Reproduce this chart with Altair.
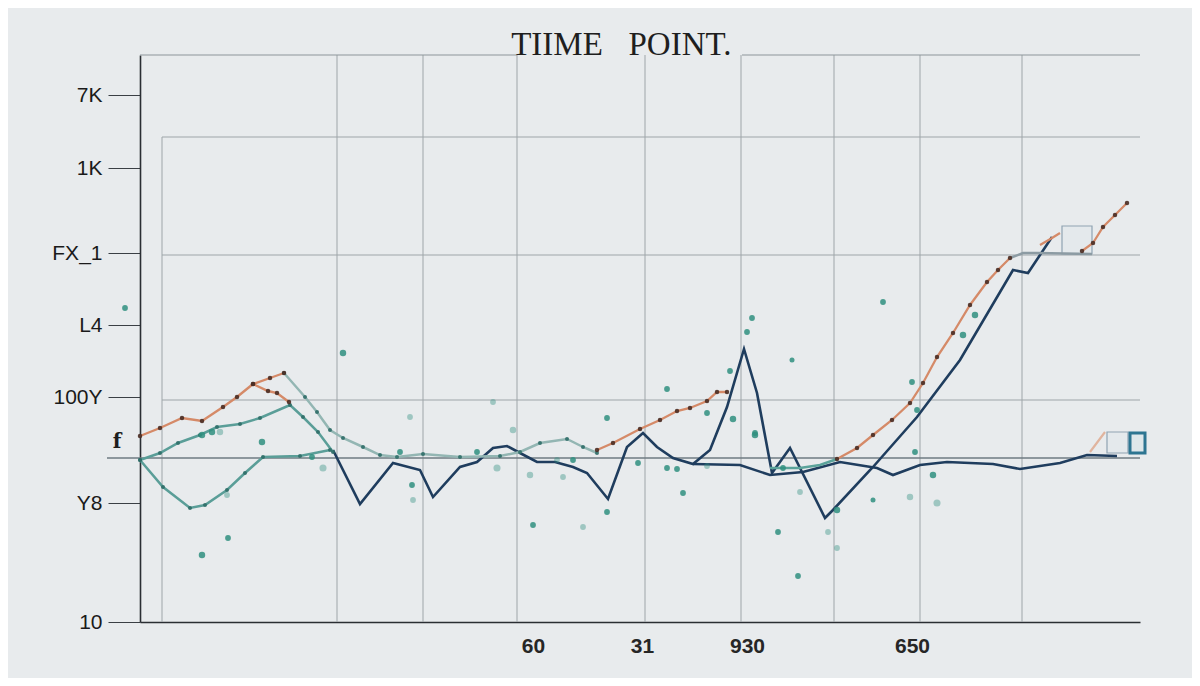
import altair as alt
import pandas as pd

# ---------------- data (x = time units, y = level units) ----------------
NAVY_X = [193, 220, 253, 280, 293, 320, 337, 353, 367, 380, 397, 415, 433, 447, 468, 487, 503, 517, 533, 553,
          570, 587, 604, 617, 632, 650, 685, 693, 733, 777, 820, 873, 888, 912]
NAVY_Y = [172, 118, 159, 152, 125, 155, 160, 174, 176, 169, 160, 160, 155, 149, 123, 175, 189, 175, 164, 158,
          172, 215, 273, 229, 149, 174, 104, 112, 155, 205, 262, 352, 349, 385]
FLAT_X = [553, 600, 630, 663, 700, 737, 753, 780, 807, 853, 880, 920, 947, 977]
FLAT_Y = [158, 157, 147, 150, 160, 154, 147, 157, 160, 158, 153, 159, 167, 166]
T1_X = [0, 23, 50, 65, 87, 105, 123, 160, 190]
T1_Y = [162, 135, 114, 117, 132, 149, 165, 166, 172]
T2_X = [0, 20, 38, 60, 77, 100, 120, 150, 163, 178, 193]
T2_Y = [162, 169, 179, 187, 195, 198, 204, 217, 205, 190, 170]
T3_X = [144, 165, 177, 190, 203, 223, 240, 257, 283, 320, 360, 380, 400, 427, 443, 457]
T3_Y = [249, 225, 210, 192, 184, 175, 167, 165, 168, 165, 166, 170, 179, 183, 175, 169]
T4_X = [630, 660, 680, 697]
T4_Y = [154, 154, 157, 163]
GREY_X = [870, 883, 897, 952]
GREY_Y = [364, 369, 369, 368]
O1_X = [0, 20, 42, 62, 83, 97, 113, 128, 137, 149]
O1_Y = [186, 194, 204, 201, 215, 225, 238, 231, 229, 220]
O1B_X = [113, 130, 144]
O1B_Y = [238, 244, 249]
O2_X = [457, 473, 500, 520, 537, 550, 567, 577, 587]
O2_Y = [172, 179, 193, 202, 211, 214, 221, 230, 230]
O3_X = [697, 717, 733, 752, 770, 783, 797, 813, 830, 847, 858, 870]
O3_Y = [163, 174, 187, 202, 219, 239, 265, 289, 317, 340, 352, 364]
O4_X = [900, 912, 920]
O4_Y = [377, 384, 389]
O5_X = [942, 953, 963, 975, 987]
O5_Y = [371, 379, 395, 407, 419]
O6_X = [950, 965]
O6_Y = [170, 190]

SCAT_X = [-15, 203, 122, 72, 62, 80, 183, 172, 87, 88, 62, 272, 273, 260, 270, 353, 373, 390, 357, 467, 527, 567,
          590, 593, 615, 498, 527, 537, 567, 543, 467, 393, 443, 423, 433, 417, 337, 607, 612, 743, 652, 772, 835,
          823, 777, 793, 797, 770, 638, 733, 697, 615, 643, 660, 775, 688, 697, 658]
SCAT_Y = [314, 269, 180, 190, 187, 190, 154, 165, 127, 84, 67, 137, 122, 170, 205, 220, 192, 147, 154, 204, 233, 209,
          251, 203, 189, 159, 154, 153, 156, 129, 110, 97, 95, 145, 162, 162, 170, 290, 304, 320, 262, 240, 307,
          287, 212, 147, 119, 125, 90, 122, 112, 187, 154, 130, 170, 90, 74, 46]
SCAT_SIZE = ["s", "m", "m", "m", "m", "m", "L", "s", "s", "s", "m", "s", "s", "s", "s", "s", "m", "m", "L", "s", "s", "s",
             "s", "m", "s", "s", "s", "s", "s", "s", "s", "s", "s", "s", "s", "s", "s", "s", "s", "s", "xs", "s", "m",
             "m", "s", "m", "L", "m", "s", "xs", "m", "m", "s", "s", "s", "s", "s", "s"]
SCAT_TONE = ["d", "d", "d", "d", "d", "l", "l", "d", "l", "d", "d", "d", "l", "d", "l", "l", "l", "l", "l", "d", "d", "d",
             "d", "d", "d", "d", "d", "d", "l", "d", "d", "d", "l", "l", "d", "l", "d", "d", "d", "d", "d", "d", "d",
             "d", "d", "d", "l", "l", "d", "d", "d", "d", "d", "l", "d", "l", "l", "d"]

Y_TICKS = [527, 454, 369, 297, 225, 119, 0]
Y_LABELS = ["7K", "1K", "FX_1", "L4", "100Y", "Y8", "10"]
X_TICKS = [393, 502, 607, 772]
X_LABELS = ["60", "31", "930", "650"]

# grid structure
H_Y = [485, 367, 222]
H_X0 = [22, 22, 22]
V_X = [22, 197, 283, 377, 505, 601, 694, 780, 882]
V_TOP = [485, 567, 567, 567, 567, 567, 567, 567, 567]
TOP_X0 = [0, 602]
TOP_X1 = [377, 1000]

# ---------------- tables ----------------
series_defs = [
    ("navy", NAVY_X, NAVY_Y), ("navy2", FLAT_X, FLAT_Y), ("t1", T1_X, T1_Y), ("t2", T2_X, T2_Y),
    ("t3", T3_X, T3_Y), ("t4", T4_X, T4_Y), ("grey", GREY_X, GREY_Y), ("o1", O1_X, O1_Y),
    ("o1b", O1B_X, O1B_Y), ("o2", O2_X, O2_Y), ("o3", O3_X, O3_Y), ("o4", O4_X, O4_Y),
    ("o5", O5_X, O5_Y), ("o6", O6_X, O6_Y),
]
rows = []
for name, xs_, ys_ in series_defs:
    for i, (a, b) in enumerate(zip(xs_, ys_)):
        rows.append({"series": name, "i": i, "x": a, "y": b})
lines_df = pd.DataFrame(rows)

S_DOMAIN = [s[0] for s in series_defs]
S_COLORS = ["#1f3d5e", "#1f3d5e", "#5a9e98", "#5a9e98", "#93b6b3", "#5aa39a", "#8c9ba3", "#d58a68",
            "#d58a68", "#d58a68", "#d58a68", "#d58a68", "#d58a68", "#e0b49e"]
S_WIDTHS = [2.6, 2.2, 1.4, 1.4, 1.3, 1.5, 1.3, 1.3, 1.3, 1.3, 1.3, 1.3, 1.3, 1.0]

scat_df = pd.DataFrame({"x": SCAT_X, "y": SCAT_Y, "size": SCAT_SIZE, "tone": SCAT_TONE})
h_df = pd.DataFrame({"x": H_X0, "x2": [1000] * len(H_Y), "y": H_Y})
hdark_df = pd.DataFrame({"x": [-33], "x2": [1000], "y": [164]})
v_df = pd.DataFrame({"x": V_X, "y": [0] * len(V_X), "y2": V_TOP})
top_df = pd.DataFrame({"x": TOP_X0, "x2": TOP_X1, "y": [567, 567]})
box_df = pd.DataFrame({"x": [922, 967], "x2": [952, 988], "y": [396, 190], "y2": [368, 169]})
box2_df = pd.DataFrame({"x": [990], "x2": [1005], "y": [189], "y2": [169]})
title_df = pd.DataFrame({"x": [417, 540], "y": [567, 567], "t": ["TIIME", "POINT."]})
f_df = pd.DataFrame({"x": [-23], "y": [180], "t": ["f"]})

# ---------------- scales/axes ----------------
xs = alt.Scale(domain=[0, 1000], nice=False, zero=False)
ys = alt.Scale(domain=[0, 567], nice=False, zero=False)

x_expr = " : ".join([f"datum.value == {v} ? '{l}'" for v, l in zip(X_TICKS, X_LABELS)]) + " : ''"
y_expr = " : ".join([f"datum.value == {v} ? '{l}'" for v, l in zip(Y_TICKS, Y_LABELS)]) + " : ''"

xaxis = alt.Axis(values=X_TICKS, labelExpr=x_expr, title=None, grid=False, ticks=False, labelPadding=13,
                 labelFontSize=21, labelFont="Liberation Sans", labelFontWeight="bold", labelColor="#262626",
                 domainColor="#2a2e33", domainWidth=1.6, labelOverlap=False, labelFlush=False)
yaxis = alt.Axis(values=Y_TICKS, labelExpr=y_expr, title=None, grid=False, tickSize=32, tickColor="#3a3f44",
                 labelPadding=6, labelFontSize=21, labelFont="Liberation Sans", labelColor="#1a1a1a",
                 domainColor="#2a2e33", domainWidth=1.6, labelOverlap=False, labelFlush=False, labelBound=False)


def X(f="x"):
    return alt.X(f, type="quantitative", scale=xs, axis=xaxis)


def Y(f="y"):
    return alt.Y(f, type="quantitative", scale=ys, axis=yaxis)


hrules = alt.Chart(h_df).mark_rule(color="#9ea5a9", strokeWidth=1).encode(x=X(), x2="x2", y=Y())
hdark = alt.Chart(hdark_df).mark_rule(color="#6f7b82", strokeWidth=1.3).encode(x=X(), x2="x2", y=Y())
vrules = alt.Chart(v_df).mark_rule(color="#9ea5a9", strokeWidth=1).encode(x=X(), y=Y(), y2="y2")
toprules = alt.Chart(top_df).mark_rule(color="#8d959a", strokeWidth=1).encode(x=X(), x2="x2", y=Y())

lines = alt.Chart(lines_df).mark_line(clip=False).encode(
    x=X(), y=Y(),
    color=alt.Color("series:N", scale=alt.Scale(domain=S_DOMAIN, range=S_COLORS), legend=None),
    strokeWidth=alt.StrokeWidth("series:N", scale=alt.Scale(domain=S_DOMAIN, range=S_WIDTHS), legend=None),
    order=alt.Order("i:Q"),
)

teal_dots = alt.Chart(lines_df).transform_filter(
    alt.FieldOneOfPredicate(field="series", oneOf=["t1", "t2", "t3"])
).mark_circle(color="#2f6d68", size=16, opacity=0.9).encode(x=X(), y=Y())

orange_dots = alt.Chart(lines_df).transform_filter(
    alt.FieldOneOfPredicate(field="series", oneOf=["o1", "o1b", "o2", "o3", "o5"])
).mark_circle(color="#4a2e25", size=20, opacity=0.9).encode(x=X(), y=Y())

scatter = alt.Chart(scat_df).mark_circle(color="#2f8f7f").encode(
    x=X(), y=Y(),
    size=alt.Size("size:N", scale=alt.Scale(domain=["xs", "s", "m", "L"], range=[25, 50, 95, 170]), legend=None),
    opacity=alt.Opacity("tone:N", scale=alt.Scale(domain=["d", "l"], range=[0.85, 0.4]), legend=None),
)

boxes = alt.Chart(box_df).mark_rect(fill="#dfe8ec", fillOpacity=0.5, stroke="#8fa3b2", strokeWidth=1.2).encode(
    x=X(), x2="x2", y=Y(), y2="y2")
box2 = alt.Chart(box2_df).mark_rect(fill="#cfe0e6", fillOpacity=0.4, stroke="#2d7591", strokeWidth=3).encode(
    x=X(), x2="x2", y=Y(), y2="y2")

title = alt.Chart(title_df).mark_text(font="Liberation Serif", fontSize=33, color="#1e1e1e",
                                      baseline="alphabetic", align="center").encode(x=X(), y=Y(), text="t:N")
ftext = alt.Chart(f_df).mark_text(font="DejaVu Serif", fontSize=20, fontWeight="bold", color="#1e1e1e",
                                  baseline="middle", align="center").encode(x=X(), y=Y(), text="t:N")

chart = alt.layer(
    hrules, vrules, toprules, hdark, boxes, box2, lines, teal_dots, orange_dots, scatter, title, ftext
).properties(
    width=1000, height=567,
    autosize=alt.AutoSizeParams(type="none"),
    padding={"left": 132, "top": 47, "right": 52, "bottom": 56},
    background="#e8ebed",
).configure_view(stroke=None)

chart.save("out.html", embed_options={"renderer": "svg", "actions": False})
